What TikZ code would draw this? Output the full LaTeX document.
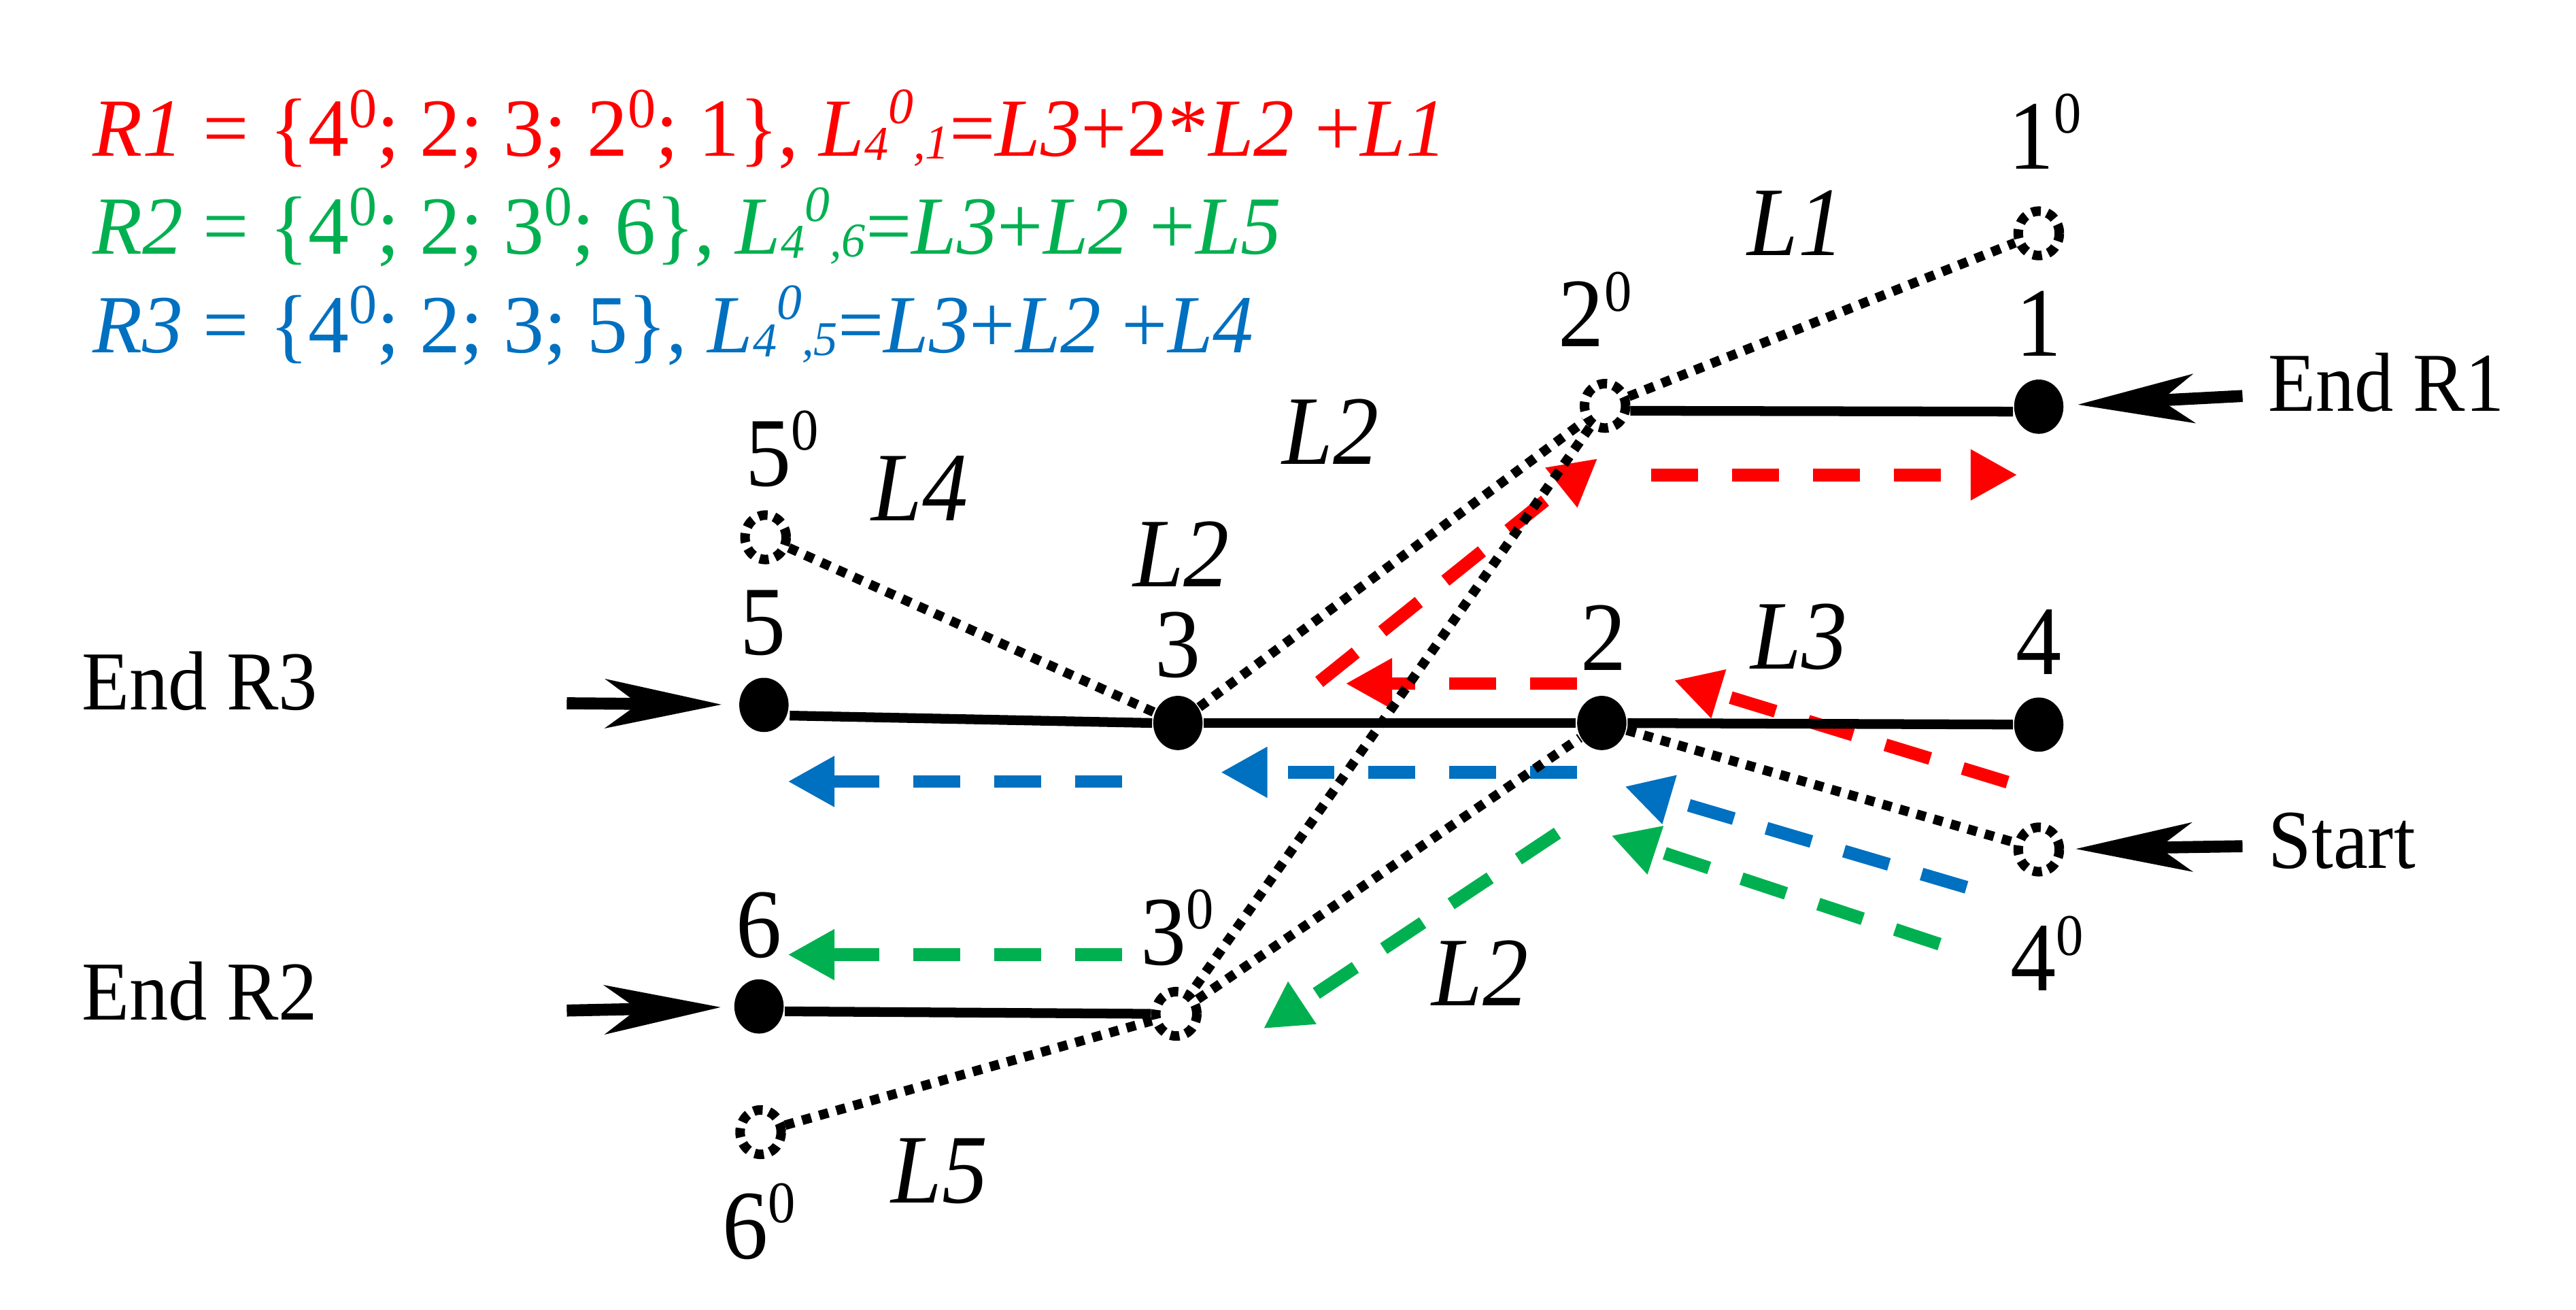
\documentclass[tikz,border=0pt]{standalone}
\usepackage{fontspec}
\setmainfont{Liberation Serif}[FakeStretch=0.93]
\newfontfamily\ttlfont{Liberation Serif}[FakeStretch=0.985]
\usetikzlibrary{arrows.meta,shapes.geometric}
\definecolor{rR}{HTML}{FF0000}
\definecolor{rG}{HTML}{00B050}
\definecolor{rB}{HTML}{0070C0}
\newcommand{\nsup}{\raisebox{6.2pt}{\fontsize{10.2pt}{10.2pt}\selectfont 0}}
\newcommand{\tsup}{\raisebox{5pt}{\fontsize{9.8pt}{9.8pt}\selectfont 0}}
\newcommand{\Lsub}[1]{\textit{L}\raisebox{-0.7pt}{\fontsize{8.4pt}{8.4pt}\selectfont\itshape 4}\raisebox{5.7pt}{\fontsize{8.8pt}{8.8pt}\selectfont\itshape 0}\raisebox{-0.5pt}{\fontsize{8.4pt}{8.4pt}\selectfont\itshape ,#1}}
\tikzset{
  dotn/.style={ellipse, fill=black, inner sep=0pt, minimum width=0.30cm, minimum height=0.33cm},
  opn/.style={ellipse, draw=black, line width=0.058cm, dash pattern=on 0.056cm off 0.04cm, inner sep=0pt, minimum width=0.25cm, minimum height=0.27cm},
  solidl/.style={line width=0.059cm},
  dotl/.style={line width=0.058cm, dash pattern=on 0.057cm off 0.051cm},
  route/.style={line width=0.078cm, dash pattern=on 0.285cm off 0.207cm, -{Triangle[length=0.284cm, width=0.29cm]}},
  endarr/.style={line width=0.073cm, -{Stealth[length=0.706cm, width=0.297cm, inset=0.2cm]}},
  lbl/.style={font=\fontsize{17pt}{17pt}\selectfont, inner sep=0pt, anchor=base},
  lbw/.style={font=\fontsize{17pt}{17pt}\selectfont, inner sep=0pt, anchor=base west},
  endl/.style={font=\fontsize{14.5pt}{14.5pt}\selectfont, inner sep=0pt, anchor=base west},
  ttl/.style={font=\ttlfont\fontsize{14.3pt}{14.3pt}\selectfont, inner sep=0pt, anchor=base west}
}
\begin{document}
\begin{tikzpicture}[x=0.01cm, y=-0.01cm]
\useasboundingbox (0,0) rectangle (1568,797);
% titles
\node[ttl, text=rR] (t1) at (55.6,95) {\textit{R1} = \{4\tsup; 2; 3; 2\tsup; 1\}, \Lsub{1}=\textit{L3}+2*\textit{L2} +\textit{L1}};
\node[ttl, text=rG] (t2) at (55.6,154.7) {\textit{R2} = \{4\tsup; 2; 3\tsup; 6\}, \Lsub{6}=\textit{L3}+\textit{L2} +\textit{L5}};
\node[ttl, text=rB] (t3) at (55.6,214.5) {\textit{R3} = \{4\tsup; 2; 3; 5\}, \Lsub{5}=\textit{L3}+\textit{L2} +\textit{L4}};
% nodes
\node[opn] (n1o) at (1241,142) {};
\node[opn] (n2o) at (977,247) {};
\node[dotn] (n1) at (1241,247.5) {};
\node[opn] (n5o) at (466,327) {};
\node[dotn] (n5) at (465,429) {};
\node[dotn] (n3) at (717,440) {};
\node[dotn] (n2) at (975,440) {};
\node[dotn] (n4) at (1241,441) {};
\node[opn] (n4o) at (1241,517) {};
\node[dotn] (n6) at (462,612.5) {};
\node[opn] (n3o) at (716,617) {};
\node[opn] (n6o) at (463,689) {};
% labels
\node[lbw] (l1o) at (1222,102.8) {1\nsup};
\node[lbw] (l2o) at (948,211) {2\nsup};
\node[lbl] (l1) at (1241,216.7) {1};
\node[lbw] (l5o) at (453,295.7) {5\nsup};
\node[lbl] (l5) at (464.5,398.6) {5};
\node[lbl] (l3) at (717,412) {3};
\node[lbl] (l2) at (976,408) {2};
\node[lbl] (l4) at (1241,410.6) {4};
\node[lbl] (l6) at (462,582.6) {6};
\node[lbw] (l3o) at (693.5,587) {3\nsup};
\node[lbw] (l4o) at (1223,603) {4\nsup};
\node[lbw] (l6o) at (439,765.8) {6\nsup};
\node[lbl] (tL1) at (1093,155.6) {\textit{L1}};
\node[lbl] (tL2a) at (810,282.5) {\textit{L2}};
\node[lbl] (tL4) at (560,316.7) {\textit{L4}};
\node[lbl] (tL2b) at (719,357) {\textit{L2}};
\node[lbl] (tL3) at (1095,407) {\textit{L3}};
\node[lbl] (tL2c) at (901,612) {\textit{L2}};
\node[lbl] (tL5) at (572,732) {\textit{L5}};
\node[endl] (eR1) at (1380,250.4) {End R1};
\node[endl] (eS) at (1380,528.4) {Start};
\node[endl] (eR3) at (49,432) {End R3};
\node[endl] (eR2) at (49,620.5) {End R2};
% coordinates for route arrows
\coordinate (r1a) at (1222,476); \coordinate (r1b) at (1019,414);
\coordinate (r2a) at (960,416);  \coordinate (r2b) at (819,416);
\coordinate (r3a) at (803,415);  \coordinate (r3b) at (972.5,279);
\coordinate (r4a) at (1005,289); \coordinate (r4b) at (1228,289);
\coordinate (b1a) at (1197,540); \coordinate (b1b) at (989,478.6);
\coordinate (b2a) at (960,470);  \coordinate (b2b) at (743,470);
\coordinate (b3a) at (683,475.6); \coordinate (b3b) at (479.5,475.6);
\coordinate (g1a) at (1180.6,574.6); \coordinate (g1b) at (980.7,508.5);
\coordinate (g2a) at (948,507);  \coordinate (g2b) at (769,626);
\coordinate (g3a) at (683,581);  \coordinate (g3b) at (479.5,581);
\coordinate (aR3) at (345,428); \coordinate (aR2) at (345,615);
\coordinate (aR1) at (1365,241); \coordinate (aS) at (1365,515);
% route arrows
\draw[route, rR] (r1a) -- (r1b);
\draw[route, rR] (r2a) -- (r2b);
\draw[route, rR] (r3a) -- (r3b);
\draw[route, rR] (r4a) -- (r4b);
\draw[route, rB] (b1a) -- (b1b);
\draw[route, rB] (b2a) -- (b2b);
\draw[route, rB] (b3a) -- (b3b);
\draw[route, rG] (g1a) -- (g1b);
\draw[route, rG] (g2a) -- (g2b);
\draw[route, rG] (g3a) -- (g3b);
% solid lines
\draw[solidl] ([yshift=-0.065cm]n5.east) -- (n3.west);
\draw[solidl] (n3) -- (n2);
\draw[solidl] (n2) -- (n4);
\draw[solidl] ([yshift=-0.03cm]n2o.east) -- ([yshift=-0.03cm]n1.west);
\draw[solidl] ([yshift=-0.03cm]n6.east) -- (n3o.west);
% dotted lines
\draw[dotl] (n5o) -- (n3);
\draw[dotl] (n3) -- (n2o);
\draw[dotl] (n2o) -- (n1o);
\draw[dotl] (n2o) -- (n3o);
\draw[dotl] (n3o) -- (n2);
\draw[dotl] (n2) -- (n4o);
\draw[dotl] (n6o) -- (n3o);
% end arrows
\draw[endarr, shorten >=0.1cm] (aR3) -- (n5);
\draw[endarr, shorten >=0.075cm] (aR2) -- (n6);
\draw[endarr, shorten >=0.08cm] (aR1) -- (n1);
\draw[endarr, shorten >=0.07cm] (aS) -- (n4o);
\end{tikzpicture}
\end{document}
